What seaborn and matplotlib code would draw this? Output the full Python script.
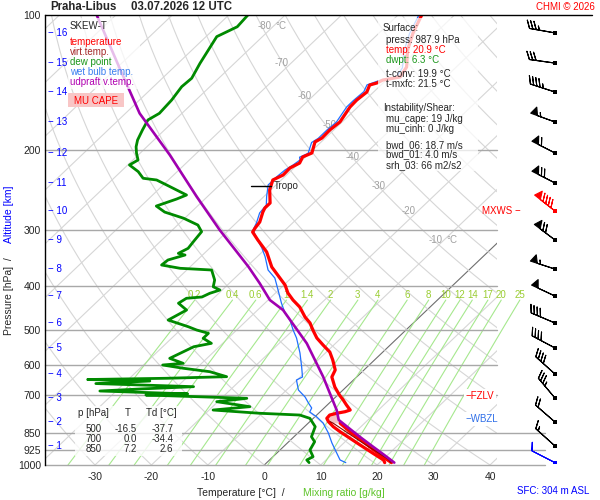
import numpy as np
import seaborn as sns
import matplotlib.pyplot as plt
from matplotlib.patches import Rectangle

# ---- sounding values (pressure hPa, temperature degC) ----
temp_p = [100, 109.6, 119.6, 130.5, 137.3, 139.5, 141.6, 143.1, 148.3, 154.5,
          160.1, 172.9, 180.1, 187.7, 191.5, 202.6, 206.8, 213.3, 218.8, 226.8,
          232.6, 244.8, 261.7, 268.5, 274.1, 288.4, 297.4, 303.6, 316.2, 336.2,
          363.1, 384.2, 398.1, 414.8, 429.9, 445.6, 469, 483.6, 501.2, 522.2,
          541.2, 561, 584.3, 615, 637.4, 671, 699, 717, 735.6, 754.8,
          761.3, 767.5, 774.4, 787.6, 801, 822, 843, 872, 902, 942, 974.7, 987.9]
temp_t = [-55.8, -54.0, -51.8, -48.8, -48.1, -50.6, -51.1, -52.0, -51.2, -51.5,
          -51.4, -50.4, -50.7, -50.6, -51.1, -49.6, -50.5, -49.9, -50.7, -50.6,
          -51.5, -50.2, -47.7, -47.7, -47.3, -46.0, -45.7, -45.4, -43.0, -39.2,
          -35.5, -32.0, -29.8, -27.8, -25.6, -23.1, -20.3, -18.3, -16.5, -14.3,
          -11.9, -9.4, -7.4, -5.1, -4.4, -2.0, 0.3, 1.9, 3.4, 5.0,
          4.4, 3.2, 2.3, 2.4, 3.3, 5.1, 7.2, 10.2, 13.2, 17.1, 20.2, 20.9]

virt_p = [801, 808, 836, 865, 895, 934, 971, 987.9]
virt_t = [3.6, 4.5, 7.5, 10.5, 13.5, 17.4, 20.9, 22.0]

wb_p = [100, 110, 120, 131, 137, 140, 143, 148, 155, 160,
        173, 180, 188, 192, 203, 207, 210, 215.4, 221, 228.8,
        238.6, 253.3, 264.4, 275.4, 289.9, 300.5, 313, 329.4, 344.4, 368.7,
        384.2, 408.5, 436.5, 459.5, 476.3, 501.2, 522.2, 563.9, 605.7, 637.4,
        647.4, 681.3, 706.3, 728.2, 747, 762.5, 782.4, 806.5, 848.9, 893.6,
        940.4, 974.7, 987.9]
wb_t = [-56.3, -54.5, -52.3, -49.4, -48.8, -51.2, -52.5, -51.8, -52.0, -52.0,
        -51.0, -51.2, -51.2, -51.6, -50.2, -51.0, -50.4, -50.7, -51.2, -51.4,
        -51.4, -49.5, -48.0, -47.7, -46.4, -45.7, -43.6, -40.8, -38.6, -35.6,
        -32.9, -30.1, -27.1, -24.6, -22.4, -20.0, -17.9, -14.5, -11.6, -9.6,
        -10.1, -7.9, -5.4, -3.7, -2.2, -1.8, 0.4, 2.6, 5.4, 7.9,
        10.6, 12.5, 14.0]

dp_p = [100, 106.2, 111.7, 119.6, 128.1, 138.2, 144.3, 154.5, 165.4, 171.1,
        180.1, 189.6, 196.3, 203, 210, 215.4, 222.9, 230.6, 232.6, 238.6,
        251.2, 256.4, 265.8, 274.1, 282.9, 292.9, 303.1, 319, 330, 338.6,
        341.5, 350.3, 359.4, 365.5, 368.7, 388.1, 401.7, 408.5, 415.4, 423.3,
        426.1, 437, 452.5, 476.3, 492.8, 501.2, 509.7, 522.9, 536.6, 546,
        560.1, 579.4, 594.3, 599.5, 609.7, 620.4, 636.4, 641.6, 645.7, 650.7,
        659.2, 669.8, 677.8, 684.8, 695, 699, 710.9, 723.3, 742, 754.8,
        767.5, 774.4, 787.6, 822, 865.3, 887.9, 926, 958.4, 974.7, 987.9]
dp_t = [-86.6, -86.3, -88.1, -87.1, -86.1, -84.8, -85.0, -84.3, -84.0, -84.8,
        -83.9, -82.9, -81.9, -80.6, -79.1, -79.7, -76.9, -74.8, -72.1, -69.4,
        -64.0, -65.0, -67.3, -64.7, -60.2, -56.4, -54.5, -54.1, -53.8, -54.6,
        -53.1, -55.2, -55.4, -51.5, -45.6, -43.2, -42.2, -40.4, -41.6, -42.3,
        -44.8, -45.3, -42.6, -44.0, -39.2, -37.1, -34.4, -34.4, -32.0, -34.5,
        -35.4, -36.6, -33.3, -36.6, -32.3, -27.0, -23.1, -33.4, -47.2, -35.9,
        -45.0, -27.1, -36.2, -42.9, -26.8, -34.0, -15.5, -20.2, -13.4, -19.3,
        -10.4, -3.0, -0.6, 1.9, 3.1, 4.6, 5.3, 7.1, 6.6, 7.5]

# MU parcel: virtual temperature (purple) and temperature below the LCL
par_p = [100, 128.1, 165.4, 204.7, 253.3, 300.5, 362.5, 394.7, 429.9, 452.5,
         536.6, 636.4, 754.8, 794, 836, 870, 911, 950, 987.9]
par_t = [-113.4, -100.7, -87.5, -74.4, -61.9, -51.6, -39.7, -34.6, -29.7, -25.5,
         -15.1, -6.0, 2.6, 4.8, 8.9, 12.1, 15.9, 19.4, 22.6]
part_p = [808, 826, 846, 884, 926, 966, 987.9]
part_t = [5.7, 7.4, 9.2, 12.9, 16.6, 20.1, 22.1]

# wind barbs (one per km of altitude + surface)
wind_p = [109.6, 127.9, 148.3, 172.9, 202.6, 236.2, 272.6, 316.2, 366.9,
          421.2, 483.6, 549.5, 627.9, 710.0, 802.6, 907.3, 987.9]
wind_dir = [280, 278, 288, 290, 297, 297, 308, 307, 288, 295, 293, 298, 312, 320, 311, 312, 297]
wind_spd = [35, 30, 45, 55, 60, 70, 90, 70, 55, 50, 40, 40, 40, 35, 20, 15, 10]
wind_col = ['black'] * 6 + ['red'] + ['black'] * 9 + ['blue']
alt_km = list(range(16, 0, -1))

p_ticks = [100, 200, 300, 400, 500, 600, 700, 850, 925, 1000]
isobars = [200, 300, 400, 500, 600, 700, 850, 925, 1000]
t_ticks = [-30, -20, -10, 0, 10, 20, 30, 40]
mix_ratios = [0.2, 0.4, 0.6, 1, 1.4, 2, 3, 4, 6, 8, 10, 12, 14, 17, 20, 25]
iso_lab_t = [-80, -70, -60, -50, -40, -30, -20, -10]
iso_lab_p = [106, 128, 151, 176, 207, 240, 273, 316]

tab_p = [500, 700, 850]
tab_t = [-16.5, 0.0, 7.2]
tab_td = [-37.7, -34.4, 2.6]

trop_p, trop_t = 240, -51.0
fzlv_p, wbzl_p, mxws_p = 702.6, 790, 272.6

SKEW = 83.7


def skx(t, p):
    return np.asarray(t, float) + SKEW * np.log10(1000.0 / np.asarray(p, float))


sns.set_style("white")
plt.rcParams['font.family'] = ['Liberation Sans', 'DejaVu Sans']

fig = plt.figure(figsize=(6, 5), dpi=100)
ax = fig.add_axes([45 / 600, 35 / 500, 452 / 600, 450 / 500])
ax.set_yscale('log')
ax.set_ylim(1000, 100)
ax.set_xlim(-38.86, 41.24)

# background: isotherms, dry adiabats, mixing ratio lines, isobars
pp = np.geomspace(100, 1000, 200)
for t0 in range(-130, 50, 10):
    ax.plot(skx(t0, pp), pp, color='#6e6e6e' if t0 == 0 else '#d6d6d6', lw=0.8, zorder=1)
for th in range(-40, 190, 10):
    tt = (th + 273.15) * (pp / 1000.0) ** 0.286 - 273.15
    ax.plot(skx(tt, pp), pp, color='#d6d6d6', lw=0.8, zorder=1)
pm = np.geomspace(430, 1000, 60)
for w in mix_ratios:
    a = np.log(w * pm / (622.0 + w) / 6.112)
    tt = 243.5 * a / (17.67 - a)
    ax.plot(skx(tt, pm), pm, color='#a6e88e', lw=0.8, zorder=1.2, clip_on=False)
    ax.text(skx(tt[0], pm[0]), 418, f'{w:g}', color='#9acd32', fontsize=7,
            ha='center', va='center', zorder=1.3, clip_on=False)
for p in isobars:
    ax.axhline(p, xmax=1.106 if p >= 850 else 1.0, color='#a8a8a8', lw=1,
               zorder=1.5, clip_on=False)
for t0, p in zip(iso_lab_t, iso_lab_p):
    ax.annotate(f'{t0}', (skx(t0, p), p), xytext=(-1.5, 0), textcoords='offset points',
                ha='right', va='center', color='#a0a0a0', fontsize=7, zorder=1.6)
    if t0 in (-80, -10):
        ax.annotate('°C', (skx(t0, p), p), xytext=(1.5, 0), textcoords='offset points',
                    ha='left', va='center', color='#a0a0a0', fontsize=7, zorder=1.6)

# MU CAPE area
cape_p = np.geomspace(772, 806, 30)
x_env = np.interp(np.log(cape_p), np.log(temp_p), skx(temp_t, temp_p))
x_par = np.interp(np.log(cape_p), np.log(par_p), skx(par_t, par_p))
ax.fill_betweenx(cape_p, x_env, x_par, where=x_par > x_env, color='#f6c3c3', lw=0, zorder=2.5)

# profiles
sns.lineplot(x=skx(wb_t, wb_p), y=wb_p, sort=False, estimator=None, color='#1f6fff', lw=0.9, ax=ax, zorder=3)
sns.lineplot(x=skx(dp_t, dp_p), y=dp_p, sort=False, estimator=None, color='#008a00', lw=2.0, ax=ax, zorder=4)
sns.lineplot(x=skx(temp_t, temp_p), y=temp_p, sort=False, estimator=None, color='#ff0000', lw=2.3, ax=ax, zorder=4)
sns.lineplot(x=skx(part_t, part_p), y=part_p, sort=False, estimator=None, color='#ff0000', lw=2.3, ax=ax, zorder=4)
sns.lineplot(x=skx(virt_t, virt_p), y=virt_p, sort=False, estimator=None, color='#8b0000', lw=0.8, ax=ax, zorder=4.5)
sns.lineplot(x=skx(par_t, par_p), y=par_p, sort=False, estimator=None, color='#a000b0', lw=1.9, ax=ax, zorder=4.6)

# tropopause
ax.plot(skx([trop_t - 3.2, trop_t + 0.4], [trop_p, trop_p]), [trop_p, trop_p], color='black', lw=1, zorder=5)
ax.annotate('Tropo', (skx(trop_t + 0.4, trop_p), trop_p), xytext=(2, 0), textcoords='offset points',
            va='center', fontsize=7, zorder=5)

# axes decoration
ax.set_yticks(p_ticks)
ax.set_yticklabels([str(p) for p in p_ticks])
ax.yaxis.set_minor_locator(plt.NullLocator())
ax.set_xticks(t_ticks)
ax.set_xticklabels([str(t) for t in t_ticks])
ax.tick_params(axis='y', length=0, pad=3, labelsize=7.5)
ax.tick_params(axis='x', length=0, pad=5, labelsize=7.5)
ax.set_xlabel('')
ax.set_ylabel('')
for s in ('top', 'right', 'bottom'):
    ax.spines[s].set_visible(False)
ax.spines['left'].set_color('black')
ax.spines['left'].set_linewidth(1)
ax.plot([0, 1.21], [1, 1], transform=ax.transAxes, color='black', lw=1, clip_on=False, zorder=6)

ytr = ax.get_yaxis_transform()
for km, p in zip(alt_km, wind_p):
    ax.text(0.007, p, f'\u2212 {km}', transform=ytr, color='blue', fontsize=7, va='center', zorder=6)
ax.text(0.931, fzlv_p, '\u2212FZLV', transform=ytr, color='red', fontsize=7, va='center', zorder=7,
        bbox=dict(facecolor='white', edgecolor='none', pad=1.5))
ax.text(0.931, wbzl_p, '\u2212WBZL', transform=ytr, color='#2f6fe8', fontsize=7, va='center', zorder=7,
        bbox=dict(facecolor='white', edgecolor='none', pad=1.5))
ax.text(1.052, mxws_p, 'MXWS \u2212', transform=ytr, color='red', fontsize=7, va='center', ha='right',
        zorder=7, clip_on=False)

# wind barbs
axb = fig.add_axes([500 / 600, 35 / 500, 100 / 600, 450 / 500])
axb.set_yscale('log')
axb.set_ylim(1000, 100)
axb.set_xlim(0, 1)
axb.axis('off')
rad = np.deg2rad(wind_dir)
u = -np.array(wind_spd) * np.sin(rad)
v = -np.array(wind_spd) * np.cos(rad)
bx = np.full(len(wind_p), 0.55)
axb.barbs(bx, wind_p, u, v, length=6.1, barbcolor=wind_col, flagcolor=wind_col, linewidth=0.8,
          sizes=dict(height=0.3, spacing=0.13, width=0.28))
axb.scatter(bx, wind_p, s=7, marker='s', c=wind_col, linewidths=0, zorder=4)


# boxes and texts in figure pixels
def box(x0, y0, x1, y1, color='white', alpha=0.75):
    fig.patches.append(Rectangle((x0 / 600, 1 - y1 / 500), (x1 - x0) / 600, (y1 - y0) / 500,
                                 transform=fig.transFigure, facecolor=color, edgecolor='none',
                                 alpha=alpha, zorder=5))


def txt(x, y, s, size=7, **kw):
    fig.text(x / 600, 1 - y / 500, s, fontsize=size, va='center', zorder=6, **kw)


box(68, 18, 140, 89)
box(68, 93, 124, 107, color='#f8c6c6', alpha=1)
box(378, 18, 478, 171)
box(75, 406, 182, 456, alpha=0.8)

txt(50, 7.5, 'Praha-Libus', size=8.3, weight='bold')
txt(131, 7.5, '03.07.2026 12 UTC', size=8.3, weight='bold')
txt(595, 7, 'CHMI © 2026', color='red', ha='right')

txt(70, 26, 'SKEW-T')
txt(70, 42, 'temperature', color='#ff0000')
txt(70, 52, 'virt.temp.', color='#a52a2a')
txt(70, 62, 'dew point', color='#1a961a')
txt(70, 72, 'wet bulb temp.', color='#3a7ff0')
txt(70, 82, 'udpraft v.temp.', color='#b000b0')
txt(96, 101, 'MU CAPE', color='red', ha='center')

txt(383, 28, 'Surface:')
txt(386, 40, 'press: 987.9 hPa')
txt(386, 50, 'temp: 20.9 °C', color='red')
txt(386, 60, 'dwpt: 6.3 °C', color='#1a961a')
txt(386, 74, 't-conv: 19.9 °C')
txt(386, 84, 't-mxfc: 21.5 °C')
txt(383, 108, 'Instability/Shear:')
txt(386, 119, 'mu_cape: 19 J/kg')
txt(386, 129, 'mu_cinh: 0 J/kg')
txt(386, 145, 'bwd_06: 18.7 m/s')
txt(386, 154.5, 'bwd_01: 4.0 m/s')
txt(386, 165, 'srh_03: 66 m2/s2')

txt(78, 413, 'p [hPa]')
txt(127.5, 413, 'T', ha='center')
txt(146, 413, 'Td [°C]')
for i, (p, t, td) in enumerate(zip(tab_p, tab_t, tab_td)):
    y = 429 + 10 * i
    txt(102, y, f'{p}', ha='right')
    txt(137, y, f'{t:.1f}', ha='right')
    txt(173.5, y, f'{td:.1f}', ha='right')

txt(197, 492.5, 'Temperature [°C]  /', size=7.5)
txt(303, 492.5, 'Mixing ratio [g/kg]', size=7.5, color='#5ec42a')
txt(589, 491, 'SFC: 304 m ASL', color='blue', ha='right')
fig.text(9 / 600, 1 - 335 / 500, 'Pressure [hPa]  /', rotation=90, fontsize=7.5,
         ha='center', va='bottom')
fig.text(9 / 600, 1 - 243 / 500, 'Altitude [km]', rotation=90, fontsize=7.5, color='blue',
         ha='center', va='bottom')

fig.savefig('out.png', dpi=100, facecolor='white')
